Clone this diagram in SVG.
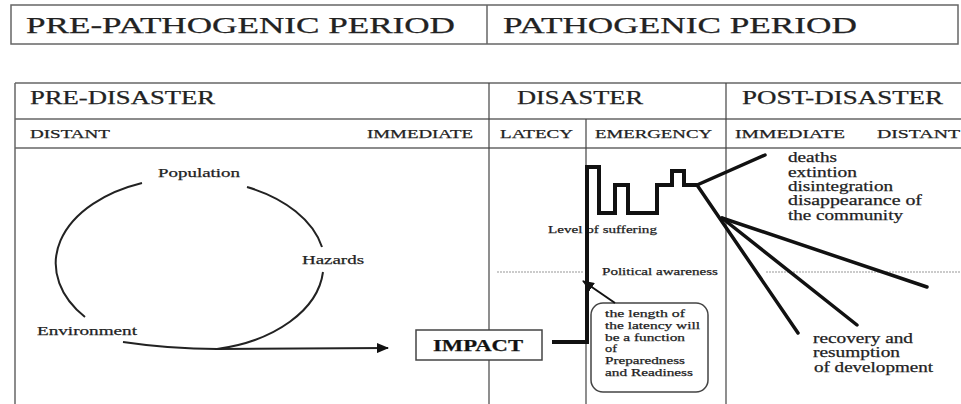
<svg xmlns="http://www.w3.org/2000/svg" width="961" height="404" viewBox="0 0 961 404">
<style>
text{font-family:"Liberation Serif","Times New Roman",serif;fill:#222;stroke:#222;stroke-width:0.25}
.h1{font-size:24px}
.h2{font-size:18px}
.h3{font-size:13px}
.lb{font-size:13px}
.sm{font-size:11px}
.rt{font-size:14px}
.grid{stroke:#666;stroke-width:1.5;fill:none}
.thin{stroke:#444;stroke-width:1.2;fill:none}
.dot{stroke:#bbb;stroke-width:1.5;stroke-dasharray:2 1;fill:none}
.thick{stroke:#111;stroke-width:4;fill:none;stroke-linejoin:miter}
.ray{stroke:#111;stroke-width:3.5;fill:none;stroke-linecap:round}
.cyc{stroke:#222;stroke-width:2;fill:none}
</style>
<defs>
<marker id="ah" markerWidth="12" markerHeight="10" refX="11" refY="5" orient="auto" markerUnits="userSpaceOnUse">
<path d="M0,0 L12,5 L0,10 Z" fill="#111"/>
</marker>
</defs>

<g id="period-header">
<rect class="grid" x="11" y="5" width="947" height="39"/>
<line class="grid" x1="487" y1="5" x2="487" y2="44"/>
<text class="h1" x="26" y="33" textLength="429" lengthAdjust="spacingAndGlyphs">PRE-PATHOGENIC PERIOD</text>
<text class="h1" x="503" y="33" textLength="354" lengthAdjust="spacingAndGlyphs">PATHOGENIC PERIOD</text>
</g>

<g id="phase-table">
<line class="grid" x1="15" y1="83" x2="961" y2="83"/>
<line class="grid" x1="15" y1="119" x2="961" y2="119"/>
<line class="grid" x1="15" y1="148" x2="961" y2="148"/>
<line class="grid" x1="15" y1="83" x2="15" y2="404"/>
<line class="thin" x1="489" y1="83" x2="489" y2="404"/>
<line class="thin" x1="726" y1="83" x2="726" y2="404"/>
<line class="thin" x1="586" y1="119" x2="586" y2="404"/>
<text class="h2" x="30" y="104" textLength="185" lengthAdjust="spacingAndGlyphs">PRE-DISASTER</text>
<text class="h2" x="517" y="104" textLength="126" lengthAdjust="spacingAndGlyphs">DISASTER</text>
<text class="h2" x="742" y="104" textLength="201" lengthAdjust="spacingAndGlyphs">POST-DISASTER</text>
<text class="h3" x="30" y="138" textLength="80" lengthAdjust="spacingAndGlyphs">DISTANT</text>
<text class="h3" x="367" y="138" textLength="106" lengthAdjust="spacingAndGlyphs">IMMEDIATE</text>
<text class="h3" x="500" y="138" textLength="73" lengthAdjust="spacingAndGlyphs">LATECY</text>
<text class="h3" x="595" y="138" textLength="117" lengthAdjust="spacingAndGlyphs">EMERGENCY</text>
<text class="h3" x="735" y="138" textLength="110" lengthAdjust="spacingAndGlyphs">IMMEDIATE</text>
<text class="h3" x="877" y="138" textLength="83" lengthAdjust="spacingAndGlyphs">DISTANT</text>
<line class="dot" x1="497" y1="272" x2="583" y2="272"/>
<line class="dot" x1="766" y1="272" x2="961" y2="272"/>
</g>

<g id="population"><text class="lb" x="158" y="177" textLength="82" lengthAdjust="spacingAndGlyphs">Population</text></g>
<g id="hazards"><text class="lb" x="302" y="264" textLength="62" lengthAdjust="spacingAndGlyphs">Hazards</text></g>
<g id="environment"><text class="lb" x="37" y="335" textLength="100" lengthAdjust="spacingAndGlyphs">Environment</text></g>

<g id="impact">
<rect x="416" y="330" width="126" height="30" fill="#fff" stroke="#444" stroke-width="1.5"/>
<text x="433" y="351" font-size="16" font-weight="bold" textLength="90" lengthAdjust="spacingAndGlyphs" style="fill:#111">IMPACT</text>
</g>

<g id="level-of-suffering"><text class="sm" x="548" y="233" textLength="109" lengthAdjust="spacingAndGlyphs">Level of suffering</text></g>
<g id="political-awareness"><text class="sm" x="602" y="275" textLength="116" lengthAdjust="spacingAndGlyphs">Political awareness</text></g>

<g id="latency-note">
<rect x="591" y="303" width="117" height="89" rx="12" ry="12" fill="#fff" stroke="#444" stroke-width="1.5"/>
<text class="sm" x="605" y="317" textLength="80" lengthAdjust="spacingAndGlyphs">the length of</text>
<text class="sm" x="605" y="329" textLength="95" lengthAdjust="spacingAndGlyphs">the latency will</text>
<text class="sm" x="605" y="341" textLength="80" lengthAdjust="spacingAndGlyphs">be a function</text>
<text class="sm" x="605" y="352" textLength="12" lengthAdjust="spacingAndGlyphs">of</text>
<text class="sm" x="605" y="364" textLength="80" lengthAdjust="spacingAndGlyphs">Preparedness</text>
<text class="sm" x="605" y="376" textLength="88" lengthAdjust="spacingAndGlyphs">and Readiness</text>
</g>

<g id="bad-outcome">
<text class="rt" x="788" y="162" textLength="49" lengthAdjust="spacingAndGlyphs">deaths</text>
<text class="rt" x="788" y="177" textLength="69" lengthAdjust="spacingAndGlyphs">extintion</text>
<text class="rt" x="788" y="191" textLength="105" lengthAdjust="spacingAndGlyphs">disintegration</text>
<text class="rt" x="788" y="205" textLength="134" lengthAdjust="spacingAndGlyphs">disappearance of</text>
<text class="rt" x="788" y="220" textLength="115" lengthAdjust="spacingAndGlyphs">the community</text>
</g>

<g id="good-outcome">
<text class="rt" x="813" y="343" textLength="100" lengthAdjust="spacingAndGlyphs">recovery and</text>
<text class="rt" x="813" y="357" textLength="87" lengthAdjust="spacingAndGlyphs">resumption</text>
<text class="rt" x="814" y="372" textLength="119" lengthAdjust="spacingAndGlyphs">of development</text>
</g>

<g id="connectors">
<path class="cyc" d="M142,183 A134,86 0 0 0 85,317"/>
<path class="cyc" d="M247,187 A134,86 0 0 1 322,247"/>
<path class="cyc" d="M323,272 A134,86 0 0 1 217,349"/>
<path class="cyc" d="M123,342 C150,346 180,349 217,349 L388,348" marker-end="url(#ah)"/>
<path class="thick" d="M552,342 L587,342 L587,167 L599,167 L599,213 L615,213 L615,185 L628,185 L628,213 L657,213 L657,185 L672,185 L672,171 L684,171 L684,185 L697,185"/>
<line class="ray" x1="697" y1="185" x2="765" y2="155"/>
<line class="ray" x1="697" y1="185" x2="798" y2="333"/>
<line class="ray" x1="722" y1="218" x2="927" y2="287"/>
<line class="ray" x1="722" y1="218" x2="857" y2="325"/>
<line stroke="#111" stroke-width="2" x1="615" y1="303" x2="583" y2="281" marker-end="url(#ah)"/>
</g>
</svg>
